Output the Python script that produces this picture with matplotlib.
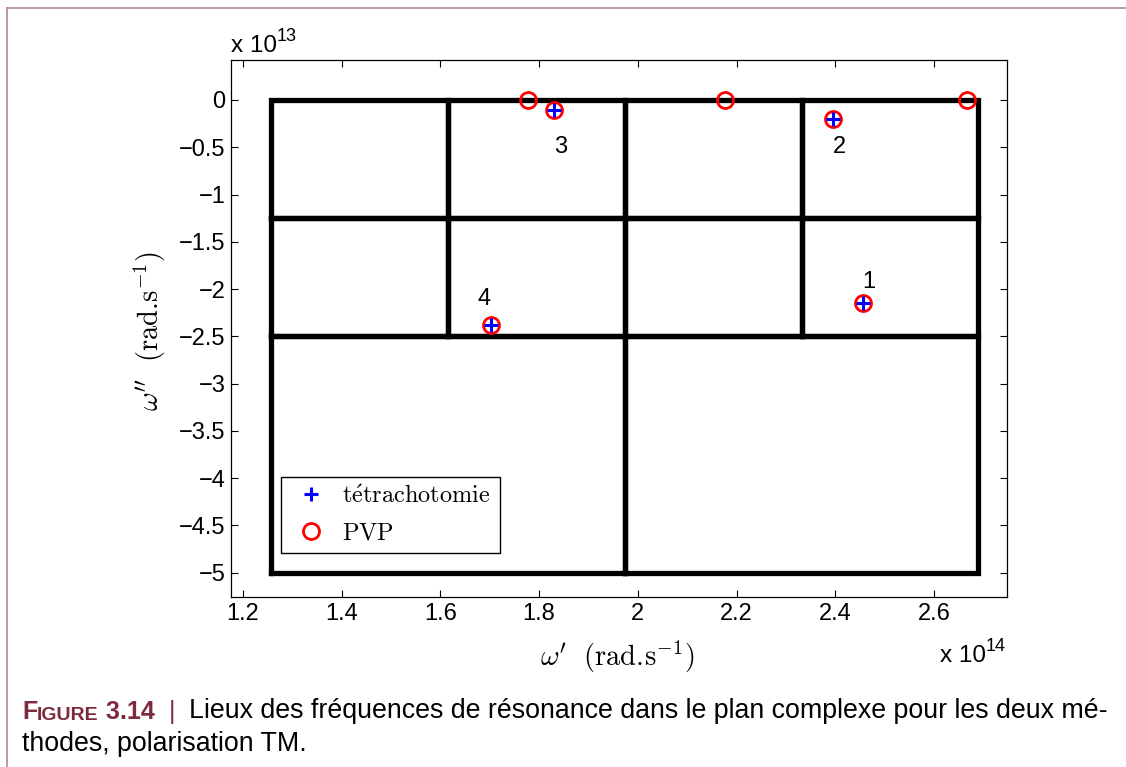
import matplotlib
matplotlib.use("Agg")
import matplotlib.pyplot as plt
from matplotlib.lines import Line2D

plt.rcParams['font.family'] = ['Liberation Sans', 'DejaVu Sans']
plt.rcParams['mathtext.fontset'] = 'cm'

# ---- data (omega' in 1e14 rad/s, omega'' in 1e13 rad/s) ----
x_ticks = [1.2, 1.4, 1.6, 1.8, 2.0, 2.2, 2.4, 2.6]
x_ticklabels = ["1.2", "1.4", "1.6", "1.8", "2", "2.2", "2.4", "2.6"]
y_ticks = [0, -0.5, -1, -1.5, -2, -2.5, -3, -3.5, -4, -4.5, -5]
y_ticklabels = ["0", "\u22120.5", "\u22121", "\u22121.5", "\u22122", "\u22122.5",
                "\u22123", "\u22123.5", "\u22124", "\u22124.5", "\u22125"]

# tetrachotomy cells: (x0, x1, y0, y1)
cells = [
    (1.257, 1.9735, -5.0, -2.5), (1.9735, 2.69, -5.0, -2.5),
    (1.257, 1.615, -2.5, -1.25), (1.615, 1.9735, -2.5, -1.25),
    (1.9735, 2.332, -2.5, -1.25), (2.332, 2.69, -2.5, -1.25),
    (1.257, 1.615, -1.25, 0.0), (1.615, 1.9735, -1.25, 0.0),
    (1.9735, 2.332, -1.25, 0.0), (2.332, 2.69, -1.25, 0.0),
]

tetra_re = [2.456, 2.396, 1.830, 1.703]
tetra_im = [-2.15, -0.20, -0.11, -2.385]
pvp_re = [2.456, 2.396, 1.830, 1.703, 1.778, 2.177, 2.667]
pvp_im = [-2.15, -0.20, -0.11, -2.385, 0.0, 0.0, 0.0]

res_labels = ["1", "2", "3", "4"]
res_label_x = [2.468, 2.409, 1.844, 1.688]
res_label_y = [-1.93, -0.50, -0.50, -2.10]

W, H = 1126, 767
fig = plt.figure(figsize=(W / 100, H / 100), dpi=100)
ax = fig.add_axes([231 / W, 1 - 597 / H, 776 / W, 537 / H])

for (x0, x1, y0, y1) in cells:
    ax.plot([x0, x1, x1, x0, x0], [y0, y0, y1, y1, y0], color='black',
            lw=3.8, solid_joinstyle='miter', solid_capstyle='projecting', zorder=2)

ax.plot(tetra_re, tetra_im, linestyle='none', marker='+', color='#0000ff',
        markersize=10, markeredgewidth=2.2, zorder=4,
        label=r'$\mathrm{t\acute{e}trachotomie}$')
ax.plot(pvp_re, pvp_im, linestyle='none', marker='o', markerfacecolor='none',
        markeredgecolor='#ff0000', markersize=11.5, markeredgewidth=2.0, zorder=3,
        label=r'$\mathrm{PVP}$')

for t, lx, ly in zip(res_labels, res_label_x, res_label_y):
    ax.text(lx, ly, t, fontsize=17, ha='center', va='center')

ax.set_xlim(1.1757, 2.748)
ax.set_ylim(-5.257, 0.423)
ax.set_xticks(x_ticks)
ax.set_xticklabels(x_ticklabels)
ax.set_yticks(y_ticks)
ax.set_yticklabels(y_ticklabels)
ax.tick_params(direction='in', length=5, width=0.8, labelsize=17,
               top=True, right=True, pad=4)
for s in ax.spines.values():
    s.set_linewidth(0.9)

leg = ax.legend(loc='lower left', bbox_to_anchor=(0.0644, 0.082, 0.282, 0.145),
                mode='expand', borderaxespad=0, fontsize=17.5, frameon=True,
                fancybox=False, edgecolor='black', framealpha=1,
                handlelength=1.8, handletextpad=0.35, borderpad=0.35,
                labelspacing=0.6)
leg.get_frame().set_linewidth(1.0)

# axis labels
fig.text(617 / W, 1 - 657 / H, r"$\omega'\ \ (\mathrm{rad.}\!\mathrm{s}^{-1})$",
         fontsize=20.5, ha='center', va='center')
fig.text(150 / W, 1 - 331 / H, r"$\omega''\ \ (\mathrm{rad.}\!\mathrm{s}^{-1})$",
         fontsize=20.5, ha='center', va='center', rotation=90)

# exponent texts
t1 = fig.text(231 / W, 1 - 52 / H, "x 10", fontsize=17.5, va='baseline', ha='left')
ax.annotate("13", xy=(1, 0.55), xycoords=t1, fontsize=13, va='bottom', ha='left',
            annotation_clip=False)
t2 = fig.text(940 / W, 1 - 662 / H, "x 10", fontsize=17.5, va='baseline', ha='left')
ax.annotate("14", xy=(1, 0.55), xycoords=t2, fontsize=13, va='bottom', ha='left',
            annotation_clip=False)

# outer frame
fc = '#b58792'
fig.add_artist(Line2D([7 / W, 1], [1 - 8 / H, 1 - 8 / H], transform=fig.transFigure,
                      color=fc, lw=1.2))
fig.add_artist(Line2D([7 / W, 7 / W], [1 - 8 / H, 0], transform=fig.transFigure,
                      color=fc, lw=1.2))

# caption
red = '#7d2a3c'
rs = 18.0
cs = 19.3
c1 = fig.text(22 / W, 1 - 719 / H, "F", fontsize=rs, color=red, weight='bold',
              va='baseline', ha='left')
c2 = ax.annotate("IGURE", xy=(1, 0), xycoords=c1, fontsize=rs * 0.78, color=red,
                 weight='bold', va='bottom', ha='left', annotation_clip=False)
c3 = ax.annotate(" 3.14", xy=(1, 0), xycoords=c2, fontsize=rs, color=red,
                 weight='bold', va='bottom', ha='left', annotation_clip=False)
c4 = ax.annotate("  |  ", xy=(1, 0), xycoords=c3, fontsize=rs, color=red,
                 va='bottom', ha='left', annotation_clip=False)
ax.annotate("Lieux des fr\u00e9quences de r\u00e9sonance dans le plan complexe pour les deux m\u00e9-",
            xy=(1, 0), xycoords=c4, fontsize=cs, color='black', va='bottom', ha='left',
            annotation_clip=False)
fig.text(22 / W, 1 - 751 / H, "thodes, polarisation TM.", fontsize=cs, color='black',
         va='baseline', ha='left')

fig.savefig("out.png", dpi=100)
